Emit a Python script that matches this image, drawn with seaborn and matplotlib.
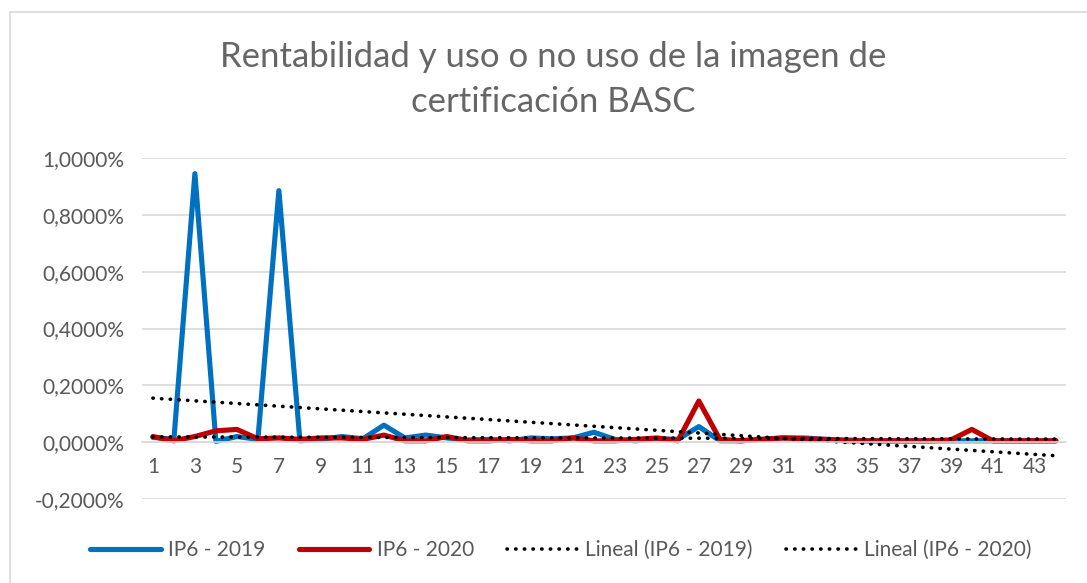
import numpy as np
import pandas as pd
import matplotlib
matplotlib.use("Agg")
import matplotlib.pyplot as plt
import matplotlib.ticker as mticker
from matplotlib.patches import Rectangle
import seaborn as sns

# datos (en %)
periodos = list(range(1, 45))
ip6_2019 = [0.017, 0.010, 0.945, 0.003, 0.020, 0.010, 0.885, 0.005, 0.010, 0.020,
            0.012, 0.060, 0.015, 0.025, 0.015, 0.008, 0.010, 0.005, 0.015, 0.012,
            0.015, 0.035, 0.010, 0.005, 0.012, 0.010, 0.055, 0.005, 0.005, 0.010,
            0.015, 0.015, 0.010, 0.008, 0.005, 0.005, 0.005, 0.005, 0.005, 0.005,
            0.005, 0.005, 0.005, 0.005]
ip6_2020 = [0.020, 0.005, 0.020, 0.040, 0.045, 0.012, 0.015, 0.010, 0.015, 0.015,
            0.010, 0.025, 0.005, 0.005, 0.020, 0.005, 0.005, 0.010, 0.005, 0.005,
            0.015, 0.005, 0.005, 0.010, 0.015, 0.005, 0.145, 0.010, 0.005, 0.010,
            0.015, 0.012, 0.010, 0.005, 0.005, 0.005, 0.005, 0.005, 0.008, 0.045,
            0.005, 0.005, 0.005, 0.005]
etiquetas_x = [str(i) for i in range(1, 44, 2)]

df = pd.DataFrame({"periodo": periodos, "IP6 - 2019": ip6_2019, "IP6 - 2020": ip6_2020})

sns.set_style("white")
plt.rcParams["font.family"] = ["Lato", "DejaVu Sans"]

fig = plt.figure(figsize=(10.87, 5.83), dpi=100)
ax = fig.add_axes([0.131, 0.144, 0.850, 0.585])

# borde del grafico
fig.patches.append(Rectangle((0.009, -0.02), 1.02, 0.999, transform=fig.transFigure,
                             fill=False, edgecolor="#D9D9D9", linewidth=1.2))

sns.lineplot(data=df, x="periodo", y="IP6 - 2019", ax=ax, color="#0070C0",
             linewidth=3.7, label="IP6 - 2019")
sns.lineplot(data=df, x="periodo", y="IP6 - 2020", ax=ax, color="#C00000",
             linewidth=3.7, label="IP6 - 2020")

# lineas de tendencia
x = np.array(periodos)
for col in ["IP6 - 2019", "IP6 - 2020"]:
    m, b = np.polyfit(x, df[col], 1)
    ax.plot(x, m * x + b, color="black", linewidth=2.6,
            linestyle=(0, (0.1, 2.3)), dash_capstyle="round",
            label=f"Lineal ({col})")

ax.set_xlim(0.5, 44.5)
ax.set_ylim(-0.2, 1.0)
ax.yaxis.set_major_locator(mticker.MultipleLocator(0.2))
ax.yaxis.set_major_formatter(mticker.FuncFormatter(
    lambda v, p: f"{v:.4f}%".replace(".", ",")))
ax.set_xticks(range(1, 44, 2))
ax.set_xticklabels(etiquetas_x)
ax.grid(axis="y", color="#D9D9D9", linewidth=1.2)
ax.set_axisbelow(True)
for s in ["top", "right", "left"]:
    ax.spines[s].set_visible(False)
ax.spines["bottom"].set_position(("data", 0))
ax.spines["bottom"].set_color("#D9D9D9")
ax.spines["bottom"].set_linewidth(1.2)
ax.tick_params(axis="both", length=0, labelsize=15, labelcolor="#595959")
ax.tick_params(axis="x", pad=11)
ax.tick_params(axis="y", pad=13)
ax.set_xlabel("")
ax.set_ylabel("")

fig.suptitle("Rentabilidad y uso o no uso de la imagen de\ncertificación BASC",
             x=0.509, y=0.863, va="center", fontsize=25, color="#666666",
             linespacing=1.5)

ax.legend(loc="center", bbox_to_anchor=(0.453, -0.15), ncol=4, frameon=False,
          fontsize=15, labelcolor="#595959", handlelength=3.4, columnspacing=1.6,
          handletextpad=0.35)

fig.savefig("out.png", dpi=100)
